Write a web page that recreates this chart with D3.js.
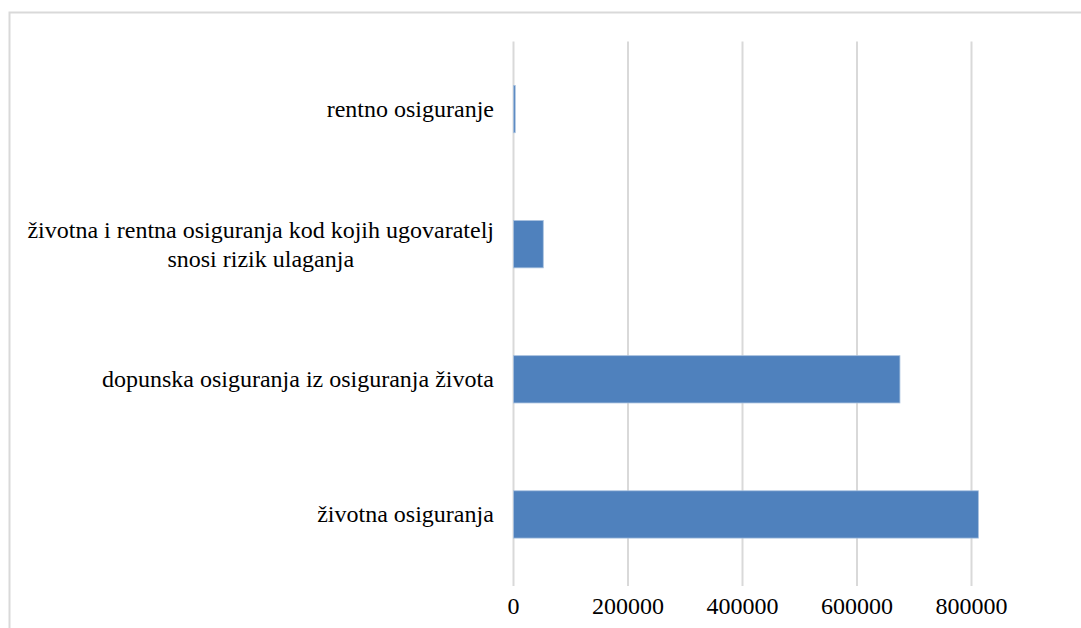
<!DOCTYPE html>
<html lang="hr">
<head>
<meta charset="UTF-8">
<title>Osiguranja</title>
<script src="https://d3js.org/d3.v7.min.js"></script>
<style>
  body { margin: 0; background: #fff; }
  text { font-family: "Liberation Serif", "Times New Roman", serif; fill: #000; }
</style>
</head>
<body>
<svg width="1081" height="628"></svg>
<script>
// categories listed bottom to top, as in the chart
const categories = [
  "životna osiguranja",
  "dopunska osiguranja iz osiguranja života",
  "životna i rentna osiguranja kod kojih ugovaratelj|snosi rizik ulaganja",
  "rentno osiguranje"
];
const values = [812000, 675000, 52000, 3000];
const xTicks = [0, 200000, 400000, 600000, 800000];

const svg = d3.select("svg");

// outer chart border (cropped at right and bottom)
svg.append("rect")
  .attr("x", 9.5).attr("y", 12.5)
  .attr("width", 1100).attr("height", 700)
  .attr("fill", "none").attr("stroke", "#d9d9d9").attr("stroke-width", 2);

const plotLeft = 513.5, plotTop = 41.5, plotBottom = 582;
const x = d3.scaleLinear().domain([0, 200000]).range([plotLeft, plotLeft + 114.5]);
const y = d3.scaleBand()
  .domain(d3.range(categories.length))
  .range([plotBottom, plotTop])
  .paddingInner(0.65).paddingOuter(0.325);

// gridlines
svg.append("g").selectAll("line")
  .data(xTicks).join("line")
  .attr("x1", d => x(d)).attr("x2", d => x(d))
  .attr("y1", plotTop).attr("y2", plotBottom + 4)
  .attr("stroke", "#d9d9d9").attr("stroke-width", 2);

// bars
svg.append("g").selectAll("rect")
  .data(values).join("rect")
  .attr("x", x(0))
  .attr("y", (d, i) => y(i))
  .attr("width", d => x(d) - x(0))
  .attr("height", y.bandwidth())
  .attr("fill", "#4f81bd")
  .attr("stroke", "#a7c0de").attr("stroke-width", 0.8);

// x tick labels
svg.append("g").selectAll("text")
  .data(xTicks).join("text")
  .attr("x", d => x(d))
  .attr("y", 614)
  .attr("text-anchor", "middle")
  .attr("font-size", 24)
  .text(d => d);

// category labels: block right-aligned, lines centred within it
const labelRight = 494;
categories.forEach((c, i) => {
  const lines = c.split("|");
  const cy = y(i) + y.bandwidth() / 2;
  const lh = 29;
  const t = svg.append("text")
    .attr("font-size", 24)
    .attr("text-anchor", "middle");
  const spans = lines.map((l, k) =>
    t.append("tspan")
      .attr("x", 0)
      .attr("y", cy + 8 + (k - (lines.length - 1) / 2) * lh)
      .text(l));
  const w = t.node().getBBox().width;
  spans.forEach(s => s.attr("x", labelRight - w / 2));
});
</script>
</body>
</html>
